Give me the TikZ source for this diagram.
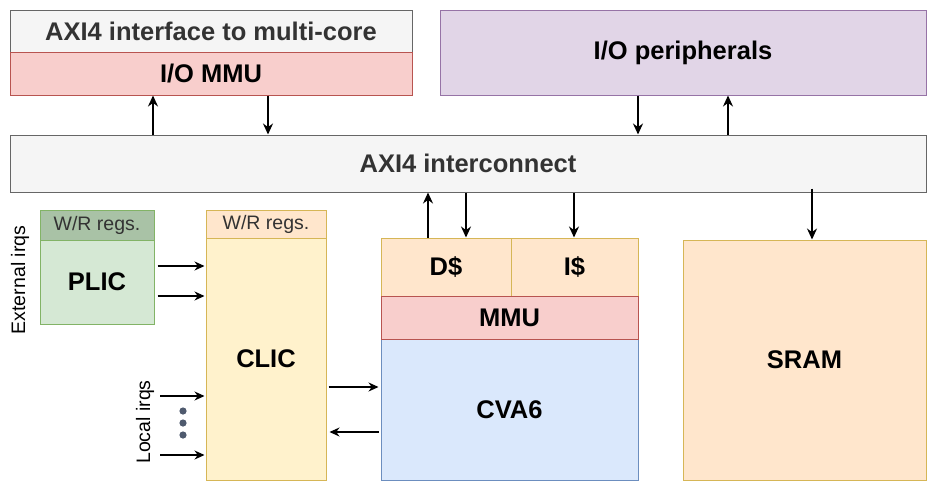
\documentclass[tikz,border=0pt]{standalone}
\usepackage{fontspec}
\setmainfont{Liberation Sans}
\usetikzlibrary{arrows.meta}
\definecolor{grayF}{HTML}{F5F5F5}
\definecolor{grayD}{HTML}{666666}
\definecolor{redF}{HTML}{F8CECC}
\definecolor{redD}{HTML}{B85450}
\definecolor{purF}{HTML}{E1D5E7}
\definecolor{purD}{HTML}{9673A6}
\definecolor{grnF}{HTML}{D5E8D4}
\definecolor{grnH}{HTML}{A9C2A6}
\definecolor{grnD}{HTML}{82B366}
\definecolor{yelF}{HTML}{FFF2CC}
\definecolor{yelD}{HTML}{D6B656}
\definecolor{orgF}{HTML}{FFE6CC}
\definecolor{bluF}{HTML}{DAE8FC}
\definecolor{bluD}{HTML}{6C8EBF}
\definecolor{dotC}{HTML}{4F5A6E}
\definecolor{txtG}{HTML}{333333}
\tikzset{
  blk/.style={rectangle, inner sep=0pt, line width=1pt, font=\fontsize{25.5}{28}\selectfont\bfseries},
  reg/.style={rectangle, inner sep=0pt, line width=1pt, font=\fontsize{19.5}{22}\selectfont, text=txtG},
  arr/.style={line width=1.6pt, -{Stealth[length=11pt,width=10pt]}},
  sarr/.style={line width=1.2pt, -{Stealth[length=10pt,width=9pt]}},
  lbl/.style={font=\fontsize{19.5}{22}\selectfont, rotate=90, inner sep=0pt},
}
\begin{document}
\begin{tikzpicture}[x=1pt,y=-1pt]
\useasboundingbox (0,0) rectangle (928,483);
% top row
\node[blk, fill=grayF, draw=grayD, text=txtG, minimum width=402, minimum height=42] (axiif) at (211,31) {AXI4 interface to multi-core};
\node[blk, fill=redF, draw=redD, minimum width=402, minimum height=43] (iommu) at (211,73.5) {I/O MMU};
\node[blk, fill=purF, draw=purD, minimum width=486, minimum height=85] (iop) at (683,52.5) {I/O peripherals};
% interconnect
\node[blk, fill=grayF, draw=grayD, text=txtG, minimum width=916, minimum height=57] (xbar) at (468,163.5) {AXI4 interconnect};
% PLIC
\node[reg, fill=grnH, draw=grnD, minimum width=114, minimum height=30] (plicr) at (97,225) {W/R regs.};
\node[blk, fill=grnF, draw=grnD, minimum width=114, minimum height=84] (plic) at (97,282) {PLIC};
% CLIC
\node[blk, fill=yelF, draw=yelD, minimum width=120, minimum height=242] (clic) at (266,359) {CLIC};
\node[reg, fill=orgF, draw=yelD, minimum width=120, minimum height=28] (clicr) at (266,224) {W/R regs.};
% CVA6
\node[blk, fill=orgF, draw=yelD, minimum width=130, minimum height=58] (dc) at (446,267) {D\$};
\node[blk, fill=orgF, draw=yelD, minimum width=127, minimum height=58] (ic) at (574.5,267) {I\$};
\node[blk, fill=bluF, draw=bluD, minimum width=257, minimum height=141] (cva6) at (509.5,409.5) {CVA6};
\node[blk, fill=redF, draw=redD, minimum width=257, minimum height=43] (mmu) at (509.5,317.5) {MMU};
% SRAM
\node[blk, fill=orgF, draw=yelD, minimum width=243, minimum height=240] (sram) at (804.5,360) {SRAM};
% labels
\node[lbl] (ext) at (20,280) {External irqs};
\node[lbl] (loc) at (145,422) {Local irqs};
% dots
\fill[dotC] (183,411) circle (3.6) (183,423) circle (3.6) (183,435) circle (3.6);
% arrows top
\draw[arr] (xbar.north -| 153,0) -- (iommu.south -| 153,0);
\draw[arr] (iommu.south -| 268,0) -- (xbar.north -| 268,0);
\draw[arr] (iop.south -| 638,0) -- (xbar.north -| 638,0);
\draw[arr] (xbar.north -| 728,0) -- (iop.south -| 728,0);
% arrows bottom
\draw[arr] (dc.north -| 428,0) -- (xbar.south -| 428,0);
\draw[arr] (xbar.south -| 466,0) -- (dc.north -| 466,0);
\draw[arr] (xbar.south -| 574,0) -- (ic.north -| 574,0);
\draw[arr] ([yshift=4]xbar.south -| 812,0) -- (sram.north -| 812,0);
% side arrows
\draw[sarr] ([xshift=3]plic.east |- 0,266) -- ([xshift=-1]clic.west |- 0,266);
\draw[sarr] ([xshift=3]plic.east |- 0,296) -- ([xshift=-1]clic.west |- 0,296);
\draw[sarr] (160,396) coordinate (l1) -- ([xshift=-1]clic.west |- l1);
\draw[sarr] (160,455) coordinate (l2) -- ([xshift=-1]clic.west |- l2);
\draw[sarr] ([xshift=2]clic.east |- 0,387) -- ([xshift=-2]cva6.west |- 0,387);
\draw[sarr] ([xshift=-2]cva6.west |- 0,432) -- ([xshift=3]clic.east |- 0,432);
\end{tikzpicture}
\end{document}
